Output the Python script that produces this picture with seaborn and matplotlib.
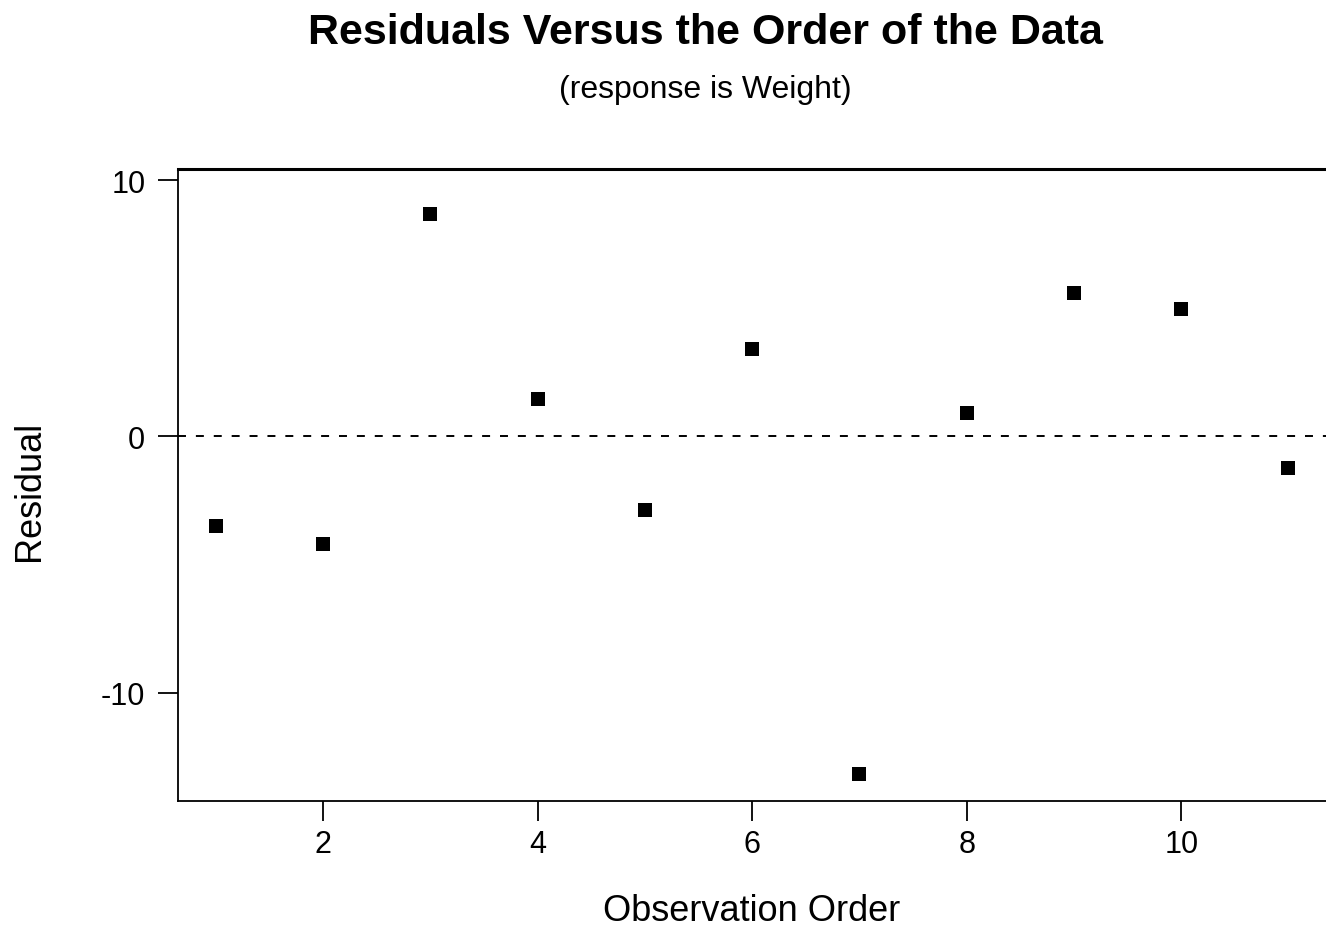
import matplotlib
matplotlib.use("Agg")
import matplotlib.pyplot as plt
import seaborn as sns
import pandas as pd

# Residuals from the Weight regression, in observation order
order = [1, 2, 3, 4, 5, 6, 7, 8, 9, 10, 11]
residual = [-3.51, -4.21, 8.69, 1.44, -2.88, 3.39, -13.18, 0.90, 5.58, 4.95, -1.25]
y_ticks = [-10, 0, 10]
x_ticks = [2, 4, 6, 8, 10]

df = pd.DataFrame({"Observation Order": order, "Residual": residual})

sns.set_theme(style="white")
plt.rcParams["font.family"] = ["Liberation Sans", "DejaVu Sans"]
plt.rcParams["axes.unicode_minus"] = False

fig = plt.figure(figsize=(13.26, 9.28), dpi=100)
ax = fig.add_axes([0.1342, 0.1358, 0.8658, 0.6810])

sns.scatterplot(data=df, x="Observation Order", y="Residual", ax=ax,
                color="black", marker="s", s=115, edgecolor="black", linewidth=0)

ax.axhline(0, color="black", linestyle=(0, (4.1, 5.1)), linewidth=1.4, zorder=0)

ax.set_xlim(0.646, 11.35)
ax.set_ylim(-14.23, 10.43)
ax.set_xticks(x_ticks)
ax.set_yticks(y_ticks)
ax.tick_params(axis="both", direction="out", length=14.5, width=1.3, color="black",
               labelsize=22, labelcolor="black", left=True, bottom=True)
ax.tick_params(axis="y", pad=9)
ax.tick_params(axis="x", pad=6)

for side in ["left", "bottom"]:
    ax.spines[side].set_color("black")
    ax.spines[side].set_linewidth(1.3)
ax.spines["top"].set_color("black")
ax.spines["top"].set_linewidth(2.2)
ax.spines["right"].set_visible(False)

ax.set_xlabel("Observation Order", fontsize=26, color="black", va="center")
ax.xaxis.set_label_coords(0.5, -0.174)
ax.set_ylabel("Residual", fontsize=26, color="black", va="center")
ax.yaxis.set_label_coords(-0.129, 0.492)

fig.text(0.532, 0.964, "Residuals Versus the Order of the Data", ha="center", va="center",
         fontsize=31, fontweight="bold", color="black")
fig.text(0.532, 0.903, "(response is Weight)", ha="center", va="center",
         fontsize=23, color="black")

fig.savefig("out.png", dpi=100, facecolor="white")
